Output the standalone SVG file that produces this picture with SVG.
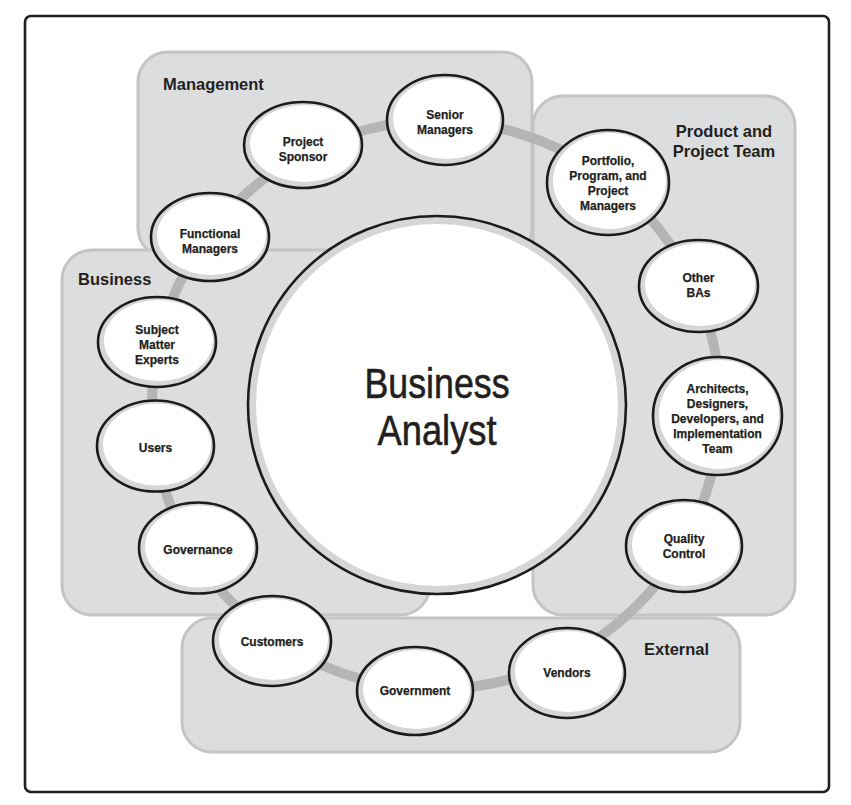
<svg xmlns="http://www.w3.org/2000/svg" width="851" height="805" viewBox="0 0 851 805">
<style>
.box{fill:#dcdddf;stroke:#c3c4c6;stroke-width:3}
.glabel{font-family:"Liberation Sans",Arial,sans-serif;font-weight:bold;font-size:16.5px;fill:#231f20}
.nlabel{font-family:"Liberation Sans",Arial,sans-serif;font-weight:bold;font-size:12px;fill:#231f20;stroke:#231f20;stroke-width:0.25;text-anchor:middle}
.outer{fill:#d5d6d8;stroke:#1c1a1b;stroke-width:2.6}
.inner{fill:#ffffff}
.ring{fill:none;stroke:#b4b5b7;stroke-width:10}
.big{font-family:"Liberation Sans",Arial,sans-serif;font-size:42px;fill:#231f20;stroke:#231f20;stroke-width:0.6;text-anchor:middle}
</style>
<rect x="25" y="16" width="804" height="776" rx="6" fill="#ffffff" stroke="#231f20" stroke-width="2.6"/>
<g id="groups">
<g id="group-management"><rect class="box" x="138" y="52" width="394" height="206" rx="30"/><text class="glabel" x="163" y="90">Management</text></g>
<g id="group-product"><rect class="box" x="533" y="96" width="262" height="519" rx="30"/><text class="glabel" x="724" y="137" text-anchor="middle">Product and</text><text class="glabel" x="724" y="157" text-anchor="middle">Project Team</text></g>
<g id="group-business"><rect class="box" x="62" y="250" width="368" height="365" rx="30"/><text class="glabel" x="78" y="285">Business</text></g>
<g id="group-external"><rect class="box" x="182" y="618" width="558" height="134" rx="30"/><text class="glabel" x="644" y="655">External</text></g>
</g>
<g id="connectors">
<circle class="ring" cx="436" cy="405" r="284"/>
</g>
<g id="node-business-analyst">
<circle class="outer" cx="437" cy="405" r="189"/>
<circle class="inner" cx="437" cy="405" r="181"/>
<text class="big" x="437" y="398" textLength="145" lengthAdjust="spacingAndGlyphs">Business</text>
<text class="big" x="437" y="445" textLength="119" lengthAdjust="spacingAndGlyphs">Analyst</text>
</g>
<g id="node-senior-managers">
<ellipse class="outer" cx="445" cy="120" rx="58" ry="45"/><ellipse class="inner" cx="446.5" cy="118.5" rx="53.5" ry="40.5"/>
<text class="nlabel" x="445" y="119">Senior</text><text class="nlabel" x="445" y="134">Managers</text>
</g>
<g id="node-project-sponsor">
<ellipse class="outer" cx="303" cy="145" rx="59" ry="43"/><ellipse class="inner" cx="304.5" cy="143.5" rx="54.5" ry="38.5"/>
<text class="nlabel" x="303" y="146">Project</text><text class="nlabel" x="303" y="161">Sponsor</text>
</g>
<g id="node-functional-managers">
<ellipse class="outer" cx="210" cy="237" rx="59" ry="44"/><ellipse class="inner" cx="211.5" cy="235.5" rx="54.5" ry="39.5"/>
<text class="nlabel" x="210" y="238">Functional</text><text class="nlabel" x="210" y="253">Managers</text>
</g>
<g id="node-subject-matter-experts">
<ellipse class="outer" cx="157" cy="342" rx="59" ry="45"/><ellipse class="inner" cx="158.5" cy="340.5" rx="54.5" ry="40.5"/>
<text class="nlabel" x="157" y="334">Subject</text><text class="nlabel" x="157" y="349">Matter</text><text class="nlabel" x="157" y="364">Experts</text>
</g>
<g id="node-users">
<ellipse class="outer" cx="155.5" cy="446" rx="58.5" ry="45.5"/><ellipse class="inner" cx="157" cy="444.5" rx="54" ry="41"/>
<text class="nlabel" x="155.5" y="451.5">Users</text>
</g>
<g id="node-governance">
<ellipse class="outer" cx="198" cy="548" rx="59" ry="45.5"/><ellipse class="inner" cx="199.5" cy="546.5" rx="54.5" ry="41"/>
<text class="nlabel" x="198" y="554">Governance</text>
</g>
<g id="node-customers">
<ellipse class="outer" cx="272" cy="641" rx="59" ry="45"/><ellipse class="inner" cx="273.5" cy="639.5" rx="54.5" ry="40.5"/>
<text class="nlabel" x="272" y="646">Customers</text>
</g>
<g id="node-government">
<ellipse class="outer" cx="415" cy="691" rx="58" ry="44"/><ellipse class="inner" cx="416.5" cy="689.5" rx="53.5" ry="39.5"/>
<text class="nlabel" x="415" y="695">Government</text>
</g>
<g id="node-vendors">
<ellipse class="outer" cx="567" cy="673" rx="58" ry="45"/><ellipse class="inner" cx="568.5" cy="671.5" rx="53.5" ry="40.5"/>
<text class="nlabel" x="567" y="677">Vendors</text>
</g>
<g id="node-quality-control">
<ellipse class="outer" cx="684" cy="546" rx="58" ry="46"/><ellipse class="inner" cx="685.5" cy="544.5" rx="53.5" ry="41.5"/>
<text class="nlabel" x="684" y="543">Quality</text><text class="nlabel" x="684" y="558">Control</text>
</g>
<g id="node-architects">
<ellipse class="outer" cx="717.5" cy="416" rx="64.5" ry="59"/><ellipse class="inner" cx="719" cy="414.5" rx="60" ry="54.5"/>
<text class="nlabel" x="717.5" y="393">Architects,</text><text class="nlabel" x="717.5" y="408">Designers,</text><text class="nlabel" x="717.5" y="423">Developers, and</text><text class="nlabel" x="717.5" y="438">Implementation</text><text class="nlabel" x="717.5" y="453">Team</text>
</g>
<g id="node-other-bas">
<ellipse class="outer" cx="698.5" cy="286" rx="59.5" ry="46"/><ellipse class="inner" cx="700" cy="284.5" rx="55" ry="41.5"/>
<text class="nlabel" x="698.5" y="282">Other</text><text class="nlabel" x="698.5" y="297">BAs</text>
</g>
<g id="node-portfolio">
<ellipse class="outer" cx="608" cy="182.5" rx="61" ry="52.5"/><ellipse class="inner" cx="609.5" cy="181" rx="56.5" ry="48"/>
<text class="nlabel" x="608" y="165">Portfolio,</text><text class="nlabel" x="608" y="180">Program, and</text><text class="nlabel" x="608" y="195">Project</text><text class="nlabel" x="608" y="210">Managers</text>
</g>
</svg>
